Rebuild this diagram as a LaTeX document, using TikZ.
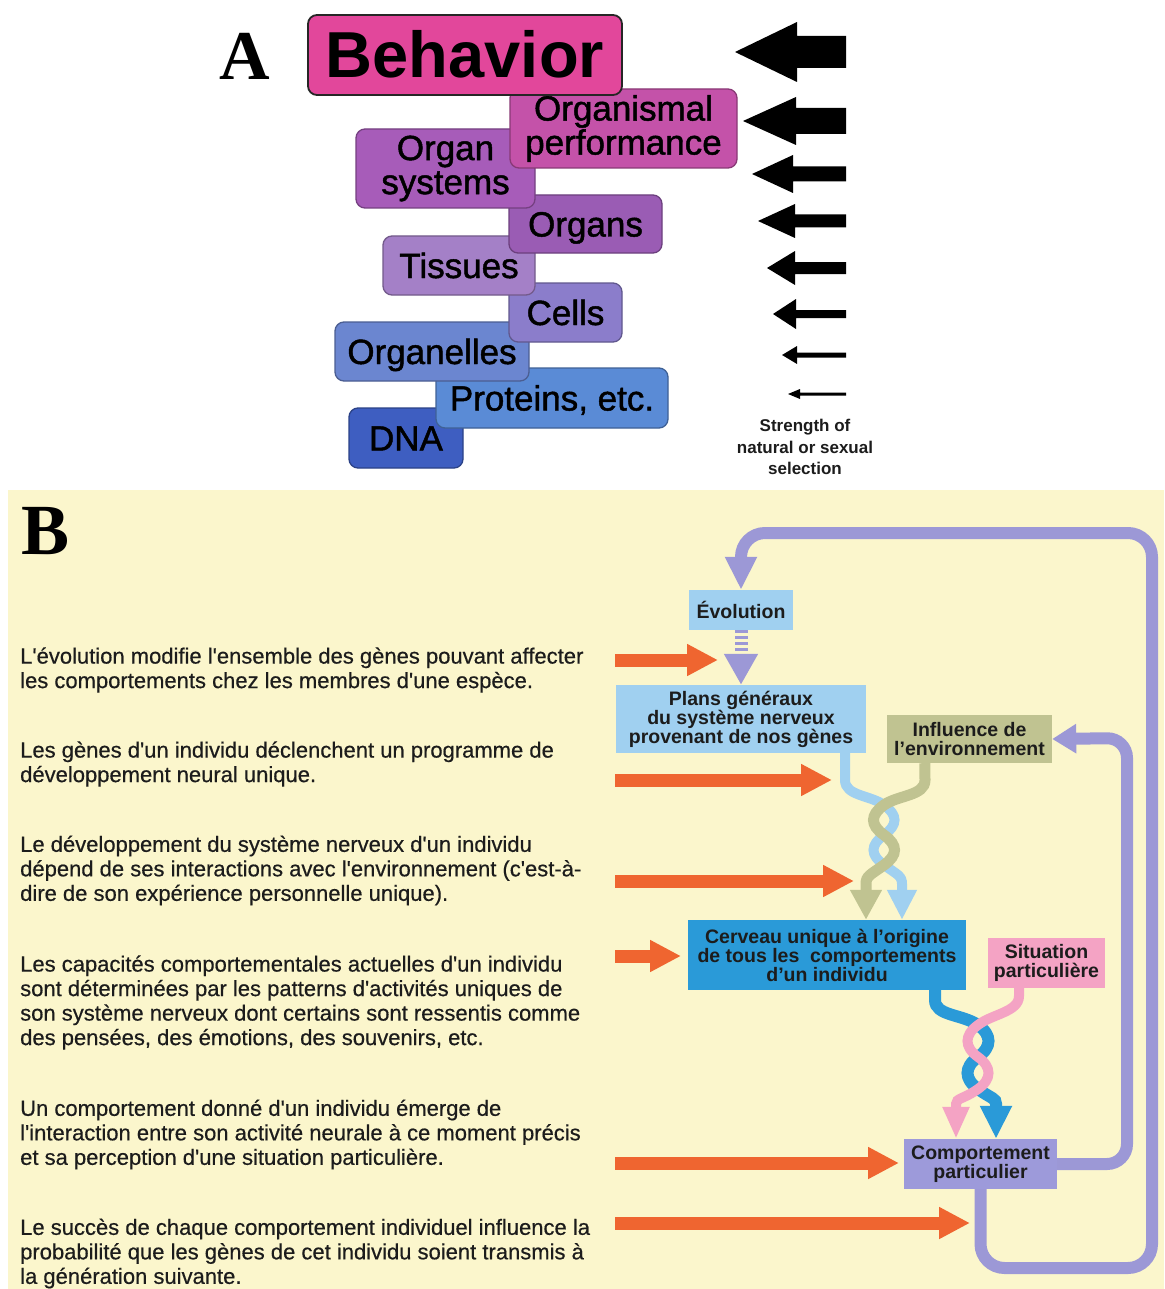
\documentclass[tikz,border=0pt]{standalone}
\usepackage{fontspec}
\setmainfont{Liberation Sans}
\newfontfamily\serifB{Liberation Serif}
\newfontfamily\medsans{Liberation Sans}[RawFeature={embolden=1.3}]
\newfontfamily\parafont{Liberation Sans}[RawFeature={embolden=0.5}]
\usetikzlibrary{arrows.meta}
\definecolor{cBeh}{HTML}{E2479B}
\definecolor{cOrgP}{HTML}{C452A9}
\definecolor{cOrgS}{HTML}{A75CB9}
\definecolor{cOrgans}{HTML}{9A5CB4}
\definecolor{cTis}{HTML}{A480C7}
\definecolor{cCell}{HTML}{8B7DCB}
\definecolor{cOrgl}{HTML}{6B86D0}
\definecolor{cProt}{HTML}{5A8BD6}
\definecolor{cDNA}{HTML}{3E5EC1}
\definecolor{cYel}{HTML}{FBF6CC}
\definecolor{cOr}{HTML}{EF6530}
\definecolor{cLoop}{HTML}{9C98D6}
\definecolor{cBlueL}{HTML}{A0D0F0}
\definecolor{cOlive}{HTML}{C0C391}
\definecolor{cBlueM}{HTML}{2A9AD8}
\definecolor{cPink}{HTML}{F4A3C4}
\definecolor{cComp}{HTML}{9D9ADA}
\definecolor{txt}{HTML}{1C1C1C}
\begin{document}
\begin{tikzpicture}[x=1pt,y=-1pt,
  abox/.style={draw, line width=1.3pt, rounded corners=9pt, inner sep=0pt, align=center,
    font=\medsans\fontsize{35}{34}\selectfont, text=black},
  one/.style={text height=25pt, text depth=0pt},
  bbox/.style={inner sep=0pt, align=center, font=\bfseries\fontsize{19.5}{19}\selectfont, text=txt},
  para/.style={anchor=west, align=left, inner sep=0pt, font=\parafont\fontsize{22}{24.5}\selectfont, text=txt},
  orangearr/.style={draw=cOr, line width=13pt, -{Triangle[length=31pt,width=30pt]}},
  loopln/.style={draw=cLoop, line width=12pt, rounded corners=24pt},
  strand/.style={line width=11pt},
]
\useasboundingbox (0,0) rectangle (1164,1289);
\fill[white] (0,0) rectangle (1164,490);
\fill[cYel] (8,490) rectangle (1164,1289);

% ---------------- Panel A ----------------
\node[font=\serifB\bfseries\fontsize{70}{70}\selectfont, inner sep=0pt, text height=47pt, text depth=0pt] (labA) at (245,56) {A};

\node[abox, one, fill=cDNA, draw=cDNA!70!black, minimum width=114, minimum height=60] (dna) at (406,438) {DNA};
\node[abox, one, fill=cProt, draw=cProt!70!black, minimum width=232, minimum height=60] (prot) at (552,398) {Proteins, etc.};
\node[abox, one, fill=cOrgl, draw=cOrgl!70!black, minimum width=194, minimum height=59] (orgl) at (432,351.5) {Organelles};
\node[abox, one, fill=cCell, draw=cCell!70!black, minimum width=113, minimum height=59] (cells) at (565.5,312.5) {Cells};
\node[abox, one, fill=cTis, draw=cTis!70!black, minimum width=152, minimum height=59] (tis) at (459,265.5) {Tissues};
\node[abox, one, fill=cOrgans, draw=cOrgans!70!black, minimum width=153, minimum height=58] (organs) at (585.5,224) {Organs};
\node[abox, fill=cOrgS, draw=cOrgS!70!black, minimum width=179, minimum height=79] (orgsys) at (445.5,168.5) {Organ\\systems};
\node[abox, fill=cOrgP, draw=cOrgP!70!black, minimum width=227, minimum height=79] (orgperf) at (623.5,128.5) {Organismal\\performance};
\node[abox, fill=cBeh, draw=black!85, line width=1.8pt, minimum width=314, minimum height=80,
      font=\bfseries\fontsize{65}{65}\selectfont, text height=46pt, text depth=0pt] (beh) at (465,55) {Behavior};

\foreach \t/\y/\h/\b/\s in {735/52/30/797/16, 743/121/24/796/13, 752/174/19/793/7.5,
    758/221/17/795/6.5, 767/268/17/795/6, 773/314/15/796/4, 782/355/9/797/2.5, 788/394/5/800/1.5}
  \fill[black] (\t,\y) -- (\b,\y-\h) -- (\b,\y-\s) -- (846,\y-\s) -- (846,\y+\s)
     -- (\b,\y+\s) -- (\b,\y+\h) -- cycle;

\node[font=\bfseries\fontsize{17}{21.5}\selectfont, align=center, text=txt, inner sep=0pt] (strength) at (805,447)
  {Strength of\\natural or sexual\\selection};

% ---------------- Panel B ----------------
\node[font=\serifB\bfseries\fontsize{72}{72}\selectfont, inner sep=0pt, text height=49pt, text depth=0pt] (labB) at (46,530) {B};

\node[para] (t1) at (20,670) {L'évolution modifie l'ensemble des gènes pouvant affecter\\les comportements chez les membres d'une espèce.};
\node[para] (t2) at (20,764) {Les gènes d'un individu déclenchent un programme de\\développement neural unique.};
\node[para] (t3) at (20,870.5) {Le développement du système nerveux d'un individu\\dépend de ses interactions avec l'environnement (c'est-à-\\dire de son expérience personnelle unique).};
\node[para] (t4) at (20,1002.5) {Les capacités comportementales actuelles d'un individu\\sont déterminées par les patterns d'activités uniques de\\son système nerveux dont certains sont ressentis comme\\des pensées, des émotions, des souvenirs, etc.};
\node[para] (t5) at (20,1134.5) {Un comportement donné d'un individu émerge de\\l'interaction entre son activité neurale à ce moment précis\\et sa perception d'une situation particulière.};
\node[para] (t6) at (20,1253.5) {Le succès de chaque comportement individuel influence la\\probabilité que les gènes de cet individu soient transmis à\\la génération suivante.};

% boxes
\node[bbox, fill=cBlueL, minimum width=104, minimum height=40] (evo) at (741,610) {Évolution};
\node[bbox, fill=cBlueL, minimum width=250, minimum height=68] (plans) at (741,719) {Plans généraux\\du système nerveux\\provenant de nos gènes};
\node[bbox, fill=cOlive, minimum width=165, minimum height=48] (infl) at (969.5,739) {Influence de\\l'environnement};
\node[bbox, fill=cBlueM, minimum width=278, minimum height=70] (cerv) at (827,955) {Cerveau unique à l'origine\\de tous les\ \ comportements\\d'un individu};
\node[bbox, fill=cPink, minimum width=117, minimum height=50] (sit) at (1046.5,963) {Situation\\particulière};
\node[bbox, fill=cComp, minimum width=153, minimum height=50] (comp) at (980.5,1164) {Comportement\\particulier};

% purple loops
\draw[loopln, -{Triangle[length=33pt,width=30pt]}] (comp.south) -- (980.5,1268) -- (1152,1268) -- (1152,533) -- (741,533) -- (evo.north);
\draw[loopln, rounded corners=20pt, -{Triangle[length=24pt,width=28pt]}] (comp.east) -- (1127,1164) -- (1127,738) -- (infl.east);
\draw[draw=cLoop, line width=13pt, dash pattern=on 3pt off 3pt, -{Triangle[length=31pt,width=32pt]}] (evo.south) -- (plans.north);

% upper twist
\draw[strand, line width=10pt, cBlueL, -{Triangle[length=30pt,width=28pt]}] ([xshift=-21pt]plans.south east) -- (845,780)
  .. controls (845,796) and (870,795) .. (884,805)
  .. controls (898,815) and (898,825) .. (884,835)
  .. controls (870,845) and (870,855) .. (884,865)
  .. controls (898,875) and (902,876) .. (902,884) -- ([xshift=75pt]cerv.north);
\draw[strand, cOlive, -{Triangle[length=30pt,width=30pt]}] ([xshift=38pt]infl.south west) -- (925,780)
  .. controls (925,796) and (898,795) .. (884,805)
  .. controls (870,815) and (870,825) .. (884,835)
  .. controls (898,845) and (898,855) .. (884,865)
  .. controls (870,875) and (866,876) .. (866,884) -- ([xshift=39pt]cerv.north);

% lower twist
\draw[strand, line width=12pt, cBlueM, -{Triangle[length=33pt,width=30pt]}] ([xshift=108pt]cerv.south) -- (935,1000)
  .. controls (935,1016) and (962,1014) .. (978,1025)
  .. controls (992,1035) and (992,1047) .. (978,1057)
  .. controls (964,1067) and (964,1079) .. (978,1089)
  .. controls (992,1099) and (996,1098) .. (996,1104) -- ([xshift=15.5pt]comp.north);
\draw[strand, line width=10pt, cPink, -{Triangle[length=32pt,width=25pt]}] ([xshift=-27.5pt]sit.south) -- (1019,996)
  .. controls (1019,1012) and (992,1014) .. (978,1025)
  .. controls (964,1035) and (964,1047) .. (978,1057)
  .. controls (992,1067) and (992,1079) .. (978,1089)
  .. controls (964,1099) and (956,1098) .. (956,1104) -- ([xshift=-24.5pt]comp.north);

% orange arrows
\coordinate (o1s) at (615,660); \coordinate (o1e) at (718,660);
\coordinate (o2s) at (615,780); \coordinate (o2e) at (832,780);
\coordinate (o3s) at (615,881); \coordinate (o3e) at (854,881);
\coordinate (o4s) at (615,956); \coordinate (o4e) at (681,956);
\coordinate (o5s) at (615,1163); \coordinate (o5e) at (899,1163);
\coordinate (o6s) at (615,1223); \coordinate (o6e) at (970,1223);
\foreach \i in {1,...,6} \draw[orangearr] (o\i s) -- (o\i e);
\end{tikzpicture}
\end{document}
